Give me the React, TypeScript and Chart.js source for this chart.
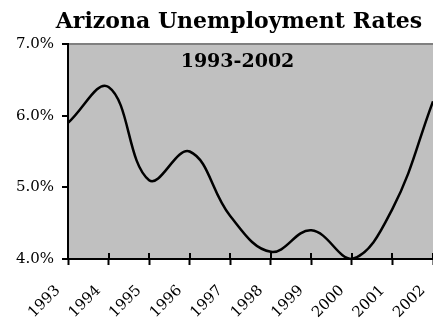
import React, { useEffect, useRef } from "react";
import { Chart, registerables } from "chart.js";

Chart.register(...registerables);

const years = ["1993", "1994", "1995", "1996", "1997", "1998", "1999", "2000", "2001", "2002"];
const rates = [5.9, 6.4, 5.1, 5.5, 4.6, 4.1, 4.4, 4.0, 4.7, 6.2];
const yTicks = [4, 5, 6, 7];
const titleLine1 = "Arizona Unemployment Rates";
const titleLine2 = "1993-2002";

const FONT = '"DejaVu Serif", serif';

export default function App() {
  const ref = useRef<HTMLCanvasElement | null>(null);

  useEffect(() => {
    if (!ref.current) return;
    const bgPlugin = {
      id: "bgPlugin",
      beforeDraw(chart: any) {
        const { ctx, chartArea } = chart;
        ctx.save();
        ctx.fillStyle = "#C0C0C0";
        ctx.fillRect(chartArea.left, chartArea.top, chartArea.right - chartArea.left, chartArea.bottom - chartArea.top);
        ctx.restore();
      },
      afterDraw(chart: any) {
        const { ctx, chartArea } = chart;
        const xs = chart.scales.x;
        ctx.save();
        ctx.strokeStyle = "#000";
        ctx.lineWidth = 2;
        for (let i = 0; i < years.length; i++) {
          const px = Math.round(xs.getPixelForTick(i));
          ctx.beginPath();
          ctx.moveTo(px, chartArea.bottom);
          ctx.lineTo(px, chartArea.bottom - 6);
          ctx.stroke();
        }
        ctx.fillStyle = "#000";
        ctx.textAlign = "center";
        ctx.textBaseline = "alphabetic";
        ctx.font = "bold 22px " + FONT;
        ctx.fillText(titleLine1, 239, 28);
        ctx.font = "bold 19px " + FONT;
        ctx.fillText(titleLine2, 237.5, 67);
        ctx.restore();
      },
    };

    const chart = new Chart(ref.current, {
      type: "line",
      data: {
        labels: years,
        datasets: [
          {
            data: rates,
            borderColor: "#000",
            borderWidth: 2.5,
            pointRadius: 0,
            tension: 0.4,
            fill: false,
          },
        ],
      },
      options: {
        responsive: false,
        animation: false,
        layout: { padding: { top: 44, right: 0, left: 0, bottom: 0 } },
        plugins: { legend: { display: false }, tooltip: { enabled: false }, title: { display: false } },
        scales: {
          x: {
            type: "category",
            offset: false,
            grid: { drawOnChartArea: false, tickLength: 6, tickColor: "#000", tickWidth: 2 },
            border: { color: "#000", width: 2 },
            ticks: {
              color: "#000",
              font: { family: FONT, size: 15 },
              minRotation: 45,
              maxRotation: 45,
              padding: 17,
              labelOffset: -10,
              autoSkip: false,
            },
            afterFit(scale: any) {
              scale.height = 60;
              scale.paddingRight = 0;
            },
          },
          y: {
            min: 4,
            max: 7,
            afterBuildTicks(scale: any) {
              scale.ticks = yTicks.map((v) => ({ value: v }));
            },
            grid: {
              drawOnChartArea: true,
              color: (c: any) => (c.tick && c.tick.value === 7 ? "#808080" : "rgba(0,0,0,0)"),
              lineWidth: 2,
              tickLength: 6,
              tickColor: "#000",
              tickWidth: 2,
            },
            border: { color: "#000", width: 2 },
            ticks: {
              color: "#000",
              font: { family: FONT, size: 15 },
              padding: 8,
              callback: (v: any) => Number(v).toFixed(1) + "%",
            },
            afterFit(scale: any) {
              scale.width = 68;
            },
          },
        },
      },
      plugins: [bgPlugin],
    });
    return () => chart.destroy();
  }, []);

  return (
    <div style={{ position: "absolute", left: 0, top: 0, width: 433, height: 319, background: "#fff" }}>
      <canvas ref={ref} width={433} height={319} style={{ display: "block", width: 433, height: 319 }} />
    </div>
  );
}
